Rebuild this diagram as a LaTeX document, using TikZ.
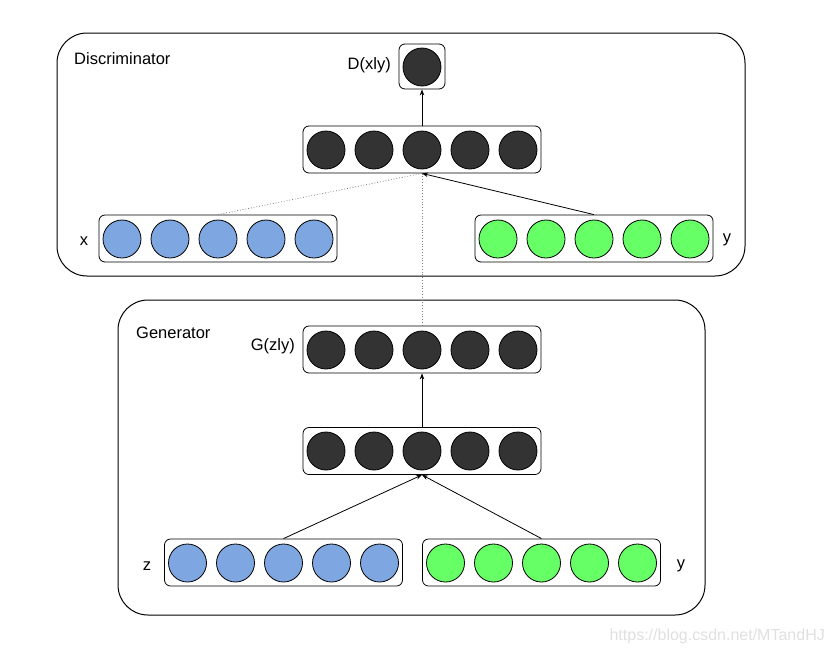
\documentclass[tikz,border=0pt]{standalone}
\usepackage{fontspec}
\setmainfont{Liberation Sans}
\usetikzlibrary{arrows.meta}
\definecolor{cblue}{HTML}{7EA6E0}
\definecolor{cgreen}{HTML}{66FF66}
\definecolor{cdark}{HTML}{333333}
\begin{document}
\begin{tikzpicture}[x=1pt,y=-1pt,
  outer/.style={draw=black, line width=1pt, rounded corners=30pt, inner sep=0pt},
  layer/.style={draw=black, line width=0.8pt, rounded corners=6pt, minimum width=238pt, minimum height=47pt, inner sep=0pt},
  unit/.style={circle, draw=black, line width=0.8pt, minimum size=38pt, inner sep=0pt},
  lbl/.style={font=\fontsize{16.5}{19}\selectfont, inner sep=0pt},
  arr/.style={-{Stealth[length=6pt,width=4.5pt]}, line width=0.8pt},
  dots/.style={dotted, draw=gray, line width=0.8pt}]
\useasboundingbox (0,0) rectangle (834,654);
% outer boxes
\node[outer, minimum width=688pt, minimum height=243pt] (disc) at (401,154.5) {};
\node[outer, minimum width=587pt, minimum height=315pt] (gen) at (411.5,457.5) {};
\node[lbl, anchor=west] (disclbl) at (74,59) {Discriminator};
\node[lbl, anchor=west] (genlbl) at (136,333) {Generator};
% Discriminator
\node[layer, minimum width=46pt, minimum height=45pt] (dbox) at (422,66.5) {};
\node[unit, fill=cdark] (dout) at (422,67) {};
\node[lbl, anchor=east] (dlbl) at (391,65) {D(xly)};
\node[layer] (dhid) at (422,149.5) {};
\foreach \i in {0,...,4} \node[unit, fill=cdark] (dh\i) at (326+48*\i,150) {};
\node[layer] (xbox) at (218,238.5) {};
\foreach \i in {0,...,4} \node[unit, fill=cblue] (x\i) at (122+48*\i,239) {};
\node[lbl] (xlbl) at (84,241) {x};
\node[layer] (ybox) at (594,238.5) {};
\foreach \i in {0,...,4} \node[unit, fill=cgreen] (y\i) at (498+48*\i,239) {};
\node[lbl] (ylbl) at (727,240) {y};
% Generator
\node[layer] (gout) at (422,349.5) {};
\foreach \i in {0,...,4} \node[unit, fill=cdark] (g\i) at (326+48*\i,350) {};
\node[lbl, anchor=east] (glbl) at (295,346) {G(zly)};
\node[layer] (ghid) at (422,451) {};
\foreach \i in {0,...,4} \node[unit, fill=cdark] (gh\i) at (326+48*\i,451) {};
\node[layer] (zbox) at (283.5,562.5) {};
\foreach \i in {0,...,4} \node[unit, fill=cblue] (z\i) at (187.5+48*\i,563) {};
\node[lbl] (zlbl) at (147,566) {z};
\node[layer] (gybox) at (541.5,562.5) {};
\foreach \i in {0,...,4} \node[unit, fill=cgreen] (gy\i) at (445.5+48*\i,563) {};
\node[lbl] (gylbl) at (681,566) {y};
% connectors
\draw[arr] (dhid.north) -- (dbox.south);
\draw[dots] (xbox.north) -- (dhid.south);
\draw[arr] (ybox.north) -- (dhid.south);
\draw[dots] (gout.north) -- (dhid.south);
\draw[arr] (ghid.north) -- (gout.south);
\draw[arr] (zbox.north) -- (ghid.south);
\draw[arr] (gybox.north) -- (ghid.south);
% watermark
\node[font=\fontsize{16}{18}\selectfont, text=black!12, anchor=east, inner sep=0pt] (wm) at (825,636) {https://blog.csdn.net/MTandHJ};
\end{tikzpicture}
\end{document}
